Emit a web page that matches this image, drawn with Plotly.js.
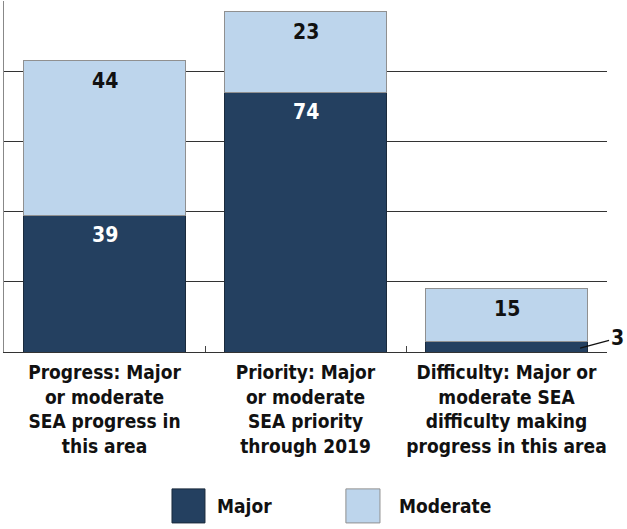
<!DOCTYPE html>
<html>
<head>
<meta charset="utf-8">
<script src="https://cdn.plot.ly/plotly-3.0.1.min.js"></script>
<style>html,body{margin:0;padding:0;background:#fff;}#chart{width:627px;height:529px;}</style>
</head>
<body>
<div id="chart"></div>
<script>
const categories = [
  "Progress: Major<br>or moderate<br>SEA progress in<br>this area",
  "Priority: Major<br>or moderate<br>SEA priority<br>through 2019",
  "Difficulty: Major or<br>moderate SEA<br>difficulty making<br>progress in this area"
];
const seriesNames = ["Major", "Moderate"];
const majorValues = [39, 74, 3];
const moderateValues = [44, 23, 15];
const yTicks = [0, 20, 40, 60, 80, 100];

const darkColor = "#244060";
const lightColor = "#bdd5ec";
const FONT = "Liberation Sans Narrow, DejaVu Sans Condensed, sans-serif";
const mkFont = (size, color) => ({family: FONT, size: size, color: color, weight: 700, stretch: "condensed"});

const traces = [
  {type: "bar", name: seriesNames[0], x: categories, y: majorValues,
   marker: {color: darkColor, line: {color: "#1a2a3c", width: 1}}, hoverinfo: "none", showlegend: false},
  {type: "bar", name: seriesNames[1], x: categories, y: moderateValues,
   marker: {color: lightColor, line: {color: "#909090", width: 1}}, hoverinfo: "none", showlegend: false}
];

const annotations = [];
categories.forEach((c, i) => {
  if (majorValues[i] >= 10) {
    annotations.push({x: c, y: majorValues[i], xref: "x", yref: "y", text: String(majorValues[i]),
      showarrow: false, yanchor: "middle", yshift: -20, font: mkFont(21, "#ffffff")});
  } else {
    annotations.push({x: i + 0.366, y: majorValues[i] * 0.37, xref: "x", yref: "y", text: String(majorValues[i]),
      showarrow: true, arrowhead: 0, arrowwidth: 1.3, arrowcolor: "#111", ax: 37, ay: -10,
      font: mkFont(21, "#111")});
  }
  annotations.push({x: c, y: majorValues[i] + moderateValues[i], xref: "x", yref: "y",
    text: String(moderateValues[i]), showarrow: false, yanchor: "middle", yshift: -20,
    font: mkFont(21, "#111")});
});

annotations.push({x: 0.350, y: -0.4387, xref: "paper", yref: "paper", text: seriesNames[0], showarrow: false,
  xanchor: "left", yanchor: "middle", font: mkFont(19, "#111")});
annotations.push({x: 0.6517, y: -0.4387, xref: "paper", yref: "paper", text: seriesNames[1], showarrow: false,
  xanchor: "left", yanchor: "middle", font: mkFont(19, "#111")});

const shapes = [
  {type: "rect", xref: "paper", yref: "paper", x0: 0.2786, x1: 0.3333, y0: -0.487, y1: -0.390,
   fillcolor: darkColor, line: {color: "#1a2a3c", width: 1}},
  {type: "rect", xref: "paper", yref: "paper", x0: 0.567, x1: 0.6235, y0: -0.487, y1: -0.390,
   fillcolor: lightColor, line: {color: "#909090", width: 1}}
];

const layout = {
  width: 627, height: 529,
  margin: {l: 4, r: 20, t: 1, b: 177},
  barmode: "stack",
  bargap: 0.19,
  paper_bgcolor: "#ffffff",
  plot_bgcolor: "#ffffff",
  showlegend: false,
  font: {family: FONT, size: 20, color: "#111"},
  xaxis: {
    type: "category", range: [-0.5, 2.5], fixedrange: true, automargin: false,
    showline: true, linecolor: "#333", linewidth: 1,
    ticks: "inside", tickson: "boundaries", ticklen: 6, tickcolor: "#444",
    showgrid: false, zeroline: false, tickangle: 0, ticklabelstandoff: 3,
    tickfont: mkFont(19, "#111")
  },
  yaxis: {
    range: [0, 100], tickvals: yTicks, showticklabels: false, ticks: "",
    showgrid: true, gridcolor: "#333", gridwidth: 1, zeroline: false,
    showline: true, linecolor: "#888", linewidth: 1, fixedrange: true
  },
  annotations: annotations,
  shapes: shapes
};

Plotly.newPlot("chart", traces, layout, {displayModeBar: false, staticPlot: true});
</script>
</body>
</html>
